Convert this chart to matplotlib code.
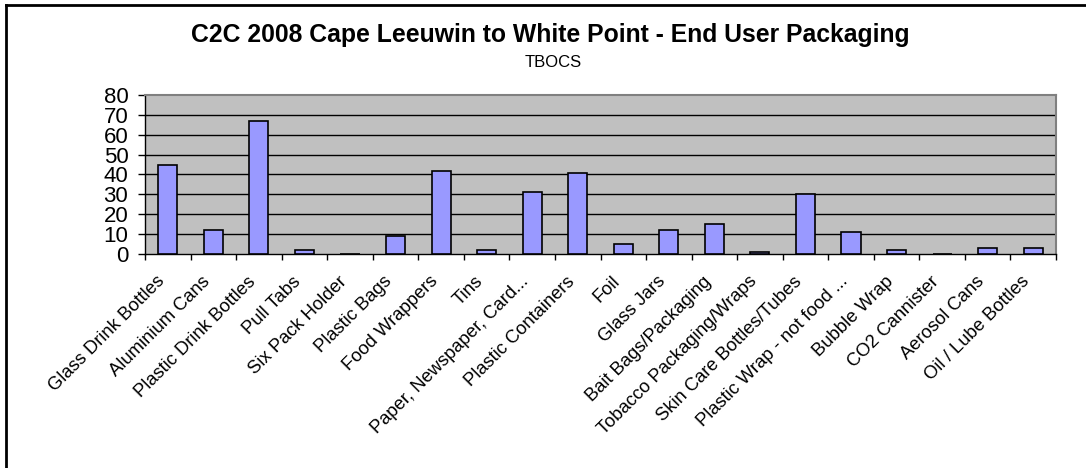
import matplotlib
matplotlib.use("Agg")
import matplotlib.pyplot as plt
import matplotlib.transforms as mtransforms
from matplotlib.lines import Line2D

plt.rcParams['font.family'] = ['Liberation Sans', 'DejaVu Sans']

categories = ["Glass Drink Bottles", "Aluminium Cans", "Plastic Drink Bottles", "Pull Tabs",
              "Six Pack Holder", "Plastic Bags", "Food Wrappers", "Tins",
              "Paper, Newspaper, Card...", "Plastic Containers", "Foil", "Glass Jars",
              "Bait Bags/Packaging", "Tobacco Packaging/Wraps", "Skin Care Bottles/Tubes",
              "Plastic Wrap - not food ...", "Bubble Wrap", "CO2 Cannister", "Aerosol Cans",
              "Oil / Lube Bottles"]
values = [45, 12, 67, 2, 0, 9, 42, 2, 31, 41, 5, 12, 15, 1, 30, 11, 2, 0, 3, 3]
yticks = [0, 10, 20, 30, 40, 50, 60, 70, 80]

fig = plt.figure(figsize=(10.86, 4.68), dpi=100)
ax = fig.add_axes([145/1086, 1-254/468, (1056-145)/1086, (254-95)/468])
ax.set_facecolor('#C0C0C0')

x = list(range(len(categories)))
ax.bar(x, values, width=0.42, color='#9999FF', edgecolor='black', linewidth=1.2, zorder=3)

ax.set_xlim(-0.5, len(categories)-0.5)
ax.set_ylim(0, 80)
ax.set_yticks(yticks)
ax.set_yticklabels([str(v) for v in yticks], fontsize=16)
for v in yticks[1:-1]:
    ax.axhline(v, color='black', linewidth=1, zorder=1)

ax.set_xticks([i - 0.5 for i in range(len(categories)+1)], minor=False)
ax.set_xticklabels([])
ax.tick_params(axis='x', direction='out', length=4, width=1, color='black')
ax.tick_params(axis='y', direction='out', length=5, width=1, color='black', pad=7)
ax.set_xticks(x, minor=True)
ax.set_xticklabels(categories, minor=True, rotation=45, ha='right', va='center',
                   rotation_mode='anchor', fontsize=13.2)
ax.tick_params(axis='x', which='minor', length=0, pad=18)
offset = mtransforms.ScaledTranslation(-6/100, 0, fig.dpi_scale_trans)
for lbl in ax.get_xticklabels(minor=True):
    lbl.set_transform(lbl.get_transform() + offset)

for s in ['left', 'bottom']:
    ax.spines[s].set_color('black')
    ax.spines[s].set_linewidth(1)
for s in ['top', 'right']:
    ax.spines[s].set_color('#808080')
    ax.spines[s].set_linewidth(1.5)

fig.text(550/1086, 1-42/468, "C2C 2008 Cape Leeuwin to White Point - End User Packaging",
         ha='center', va='baseline', fontsize=17.8, fontweight='bold')
fig.text(553/1086, 1-67/468, "TBOCS", ha='center', va='baseline', fontsize=12)

fig.add_artist(Line2D([6/1086, 1], [1-5/468, 1-5/468], transform=fig.transFigure, color='black', linewidth=2))
fig.add_artist(Line2D([6/1086, 6/1086], [0, 1-5/468], transform=fig.transFigure, color='black', linewidth=2))

fig.savefig('out.png', dpi=100)
